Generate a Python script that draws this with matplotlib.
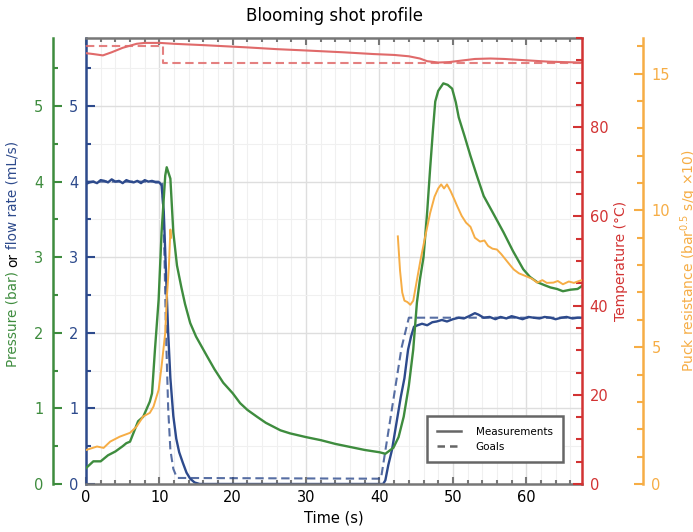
import matplotlib
matplotlib.use("Agg")
import matplotlib.pyplot as plt
from matplotlib.lines import Line2D
from matplotlib.ticker import MultipleLocator

# --- flow rate (mL/s) ---
flow_t = [0, 0.5, 1, 1.5, 2, 2.5, 3, 3.5, 4, 4.5, 5, 5.5, 6, 6.5, 7, 7.5, 8, 8.5,
          9, 9.5, 10, 10.3, 10.6, 10.9, 11.2, 11.5, 11.9, 12.3, 12.7, 13.2, 13.7,
          14.2, 14.8, 15.5, 20, 30, 40.5, 40.8, 41.2, 41.7, 42.3, 42.9, 43.4, 43.9,
          44.3, 44.7, 45.2, 45.8, 46.5, 47.2, 47.8, 48.5, 49.2, 50, 50.8, 51.5,
          52.2, 53, 53.5, 54.2, 55, 55.8, 56.5, 57.3, 58, 58.8, 59.5, 60.3, 61,
          61.8, 62.5, 63.3, 64, 64.8, 65.5, 66.3, 67, 67.6]
flow = [3.97, 3.99, 4.0, 3.98, 4.02, 4.01, 3.99, 4.03, 4.0, 4.01, 3.98, 4.02, 4.0,
        3.99, 4.01, 3.98, 4.02, 4.0, 4.01, 3.99, 3.99, 3.95, 3.6, 2.8, 2.0, 1.4,
        0.9, 0.6, 0.42, 0.28, 0.15, 0.07, 0.02, 0.0, 0.0, 0.0, 0.0, 0.05, 0.25,
        0.45, 0.8, 1.15, 1.4, 1.78, 1.95, 2.08, 2.1, 2.12, 2.1, 2.14, 2.15, 2.17,
        2.15, 2.18, 2.2, 2.19, 2.22, 2.26, 2.24, 2.2, 2.21, 2.18, 2.21, 2.19, 2.22,
        2.2, 2.18, 2.21, 2.2, 2.19, 2.21, 2.2, 2.18, 2.2, 2.21, 2.19, 2.2, 2.2]
flow_goal_t = [0, 10.4, 10.7, 10.9, 11.2, 11.5, 11.9, 12.4, 40.2, 43.0, 44.0, 67.6]
flow_goal = [4.0, 4.0, 3.0, 2.0, 1.0, 0.45, 0.2, 0.08, 0.07, 1.8, 2.2, 2.2]

# --- pressure (bar) ---
press_t = [0, 1, 2, 3, 4, 5, 5.5, 6, 7.1, 7.8, 8.7, 9.0, 9.4, 9.9, 10.3, 10.8, 11.0,
           11.5, 11.9, 12.4, 13.0, 13.5, 14.2, 15.0, 16.5, 17.5, 18.7, 20, 21, 22,
           23.3, 24.5, 25.5, 26.5, 27.8, 30, 32, 34, 36, 38, 40, 40.8, 41.9, 42.6,
           43.3, 44.0, 44.6, 45.1, 45.5, 46, 46.5, 46.9, 47.3, 47.6, 48.0, 48.7,
           49.3, 49.9, 50.4, 50.8, 51.6, 52.4, 53.3, 54.2, 55.5, 56.9, 58.2, 59.6,
           60.5, 61.5, 62.5, 63.3, 64.2, 65, 66, 67, 67.6]
press = [0.21, 0.3, 0.3, 0.38, 0.43, 0.5, 0.54, 0.56, 0.83, 0.89, 1.09, 1.2, 1.78,
         2.44, 3.33, 4.08, 4.19, 4.04, 3.33, 2.89, 2.6, 2.38, 2.13, 1.95, 1.69,
         1.52, 1.34, 1.2, 1.07, 0.98, 0.89, 0.81, 0.76, 0.71, 0.67, 0.62, 0.58,
         0.53, 0.49, 0.45, 0.42, 0.4, 0.48, 0.62, 0.89, 1.3, 1.78, 2.4, 2.7, 3.0,
         3.6, 4.17, 4.7, 5.06, 5.2, 5.3, 5.28, 5.23, 5.05, 4.85, 4.6, 4.34, 4.07,
         3.81, 3.58, 3.33, 3.08, 2.84, 2.74, 2.67, 2.63, 2.6, 2.58, 2.55, 2.57,
         2.58, 2.62]

# --- temperature (°C) ---
temp_t = [0, 1, 2.3, 3.5, 5, 6.9, 8, 10.1, 12, 16, 21.9, 26, 30, 35, 39.2, 42, 44,
          45.5, 46.5, 48, 49.5, 51, 53, 55.1, 57, 59, 61, 63, 65, 67.6]
temp = [96.6, 96.4, 96.1, 96.8, 97.8, 98.7, 98.9, 98.9, 98.7, 98.4, 97.9, 97.5,
        97.2, 96.8, 96.4, 96.2, 95.9, 95.4, 94.8, 94.5, 94.6, 94.9, 95.3, 95.4,
        95.3, 95.1, 94.9, 94.7, 94.6, 94.5]
temp_goal_t = [0, 10.5, 10.5, 67.6]
temp_goal = [98.1, 98.1, 94.5, 94.5]

# --- puck resistance (bar^0.5 s/g x10) ---
res1_t = [0.1, 1.5, 2.4, 3.3, 4.6, 6.0, 6.9, 7.8, 8.7, 9.2, 9.9, 10.3, 10.8, 11.0,
          11.3, 11.5, 11.6]
res1 = [1.25, 1.37, 1.32, 1.55, 1.73, 1.87, 2.1, 2.47, 2.6, 2.83, 3.44, 4.3, 5.53,
        6.74, 7.96, 9.3, 9.0]
res2_t = [42.5, 42.8, 43.1, 43.4, 43.8, 44.2, 44.6, 45.0, 45.6, 46.2, 46.9, 47.5,
          48.0, 48.4, 48.8, 49.2, 49.7, 50.2, 50.6, 51.2, 51.8, 52.4, 53.0, 53.7,
          54.3, 54.8, 55.4, 56, 56.6, 57.2, 57.8, 58.3, 59, 60.1, 60.8, 61.5, 62.2,
          62.8, 63.7, 64.3, 65, 65.8, 66.5, 67.2, 67.6]
res2 = [9.05, 7.8, 7.0, 6.7, 6.65, 6.55, 6.7, 7.3, 8.2, 9.0, 9.9, 10.5, 10.8, 10.95,
        10.8, 10.95, 10.7, 10.4, 10.15, 9.8, 9.55, 9.4, 9.0, 8.86, 8.9, 8.7, 8.6,
        8.57, 8.4, 8.2, 8.0, 7.84, 7.7, 7.58, 7.5, 7.36, 7.45, 7.35, 7.36, 7.42,
        7.3, 7.4, 7.35, 7.42, 7.45]

GREEN = "#3e8c3e"
BLUE = "#2d4a8c"
RED = "#d23333"
RED_LINE = "#e06a6a"
ORANGE = "#f6ad45"
GRAY = "#777777"
DASH = (0, (4, 2.2))

W, H = 693, 532
fig = plt.figure(figsize=(W / 100, H / 100), dpi=100)
ax = fig.add_axes([86 / W, 48 / H, 496 / W, 446 / H])

# main axes: flow rate on the inner left spine, time on x
ax.plot(flow_t, flow, color=BLUE, lw=1.7)
ax.plot(flow_goal_t, flow_goal, color=BLUE, lw=1.5, ls=DASH, alpha=0.8)
ax.set_xlim(0, 67.6)
ax.set_ylim(0, 5.9)
ax.xaxis.set_major_locator(MultipleLocator(10))
ax.xaxis.set_minor_locator(MultipleLocator(2))
ax.yaxis.set_major_locator(MultipleLocator(1))
ax.yaxis.set_minor_locator(MultipleLocator(0.5))
ax.grid(True, which="major", color="#dedede", lw=1)
ax.grid(True, which="minor", color="#f0f0f0", lw=0.8)
ax.set_axisbelow(True)
ax.tick_params(axis="x", which="both", direction="in", top=True, color=GRAY,
               width=1.5, labelsize=10.5, pad=4)
ax.tick_params(axis="x", which="major", length=5)
ax.tick_params(axis="x", which="minor", length=3)
ax.tick_params(axis="y", which="both", direction="in", color=BLUE,
               labelcolor=BLUE, width=1.5, labelsize=10.5, pad=5.5)
ax.tick_params(axis="y", which="major", length=6.5)
ax.tick_params(axis="y", which="minor", length=3.6)
for side in ("top", "bottom"):
    ax.spines[side].set_color(GRAY)
    ax.spines[side].set_linewidth(1.8)
ax.spines["left"].set_color(BLUE)
ax.spines["left"].set_linewidth(1.8)
ax.spines["right"].set_visible(False)
ax.set_xlabel("Time (s)", fontsize=10.5, labelpad=4)
ax.set_title("Blooming shot profile", fontsize=12, pad=12)

# pressure on an outer left spine
ax_p = ax.twinx()
ax_p.plot(press_t, press, color=GREEN, lw=1.7)
ax_p.set_ylim(0, 5.9)
ax_p.yaxis.set_ticks_position("left")
ax_p.spines["left"].set_position(("axes", -33 / 496))
ax_p.spines["left"].set_visible(True)
ax_p.spines["left"].set_color(GREEN)
ax_p.spines["left"].set_linewidth(1.8)
for side in ("right", "top", "bottom"):
    ax_p.spines[side].set_visible(False)
ax_p.yaxis.set_major_locator(MultipleLocator(1))
ax_p.yaxis.set_minor_locator(MultipleLocator(0.5))
ax_p.tick_params(axis="y", which="both", direction="in", color=GREEN,
                 labelcolor=GREEN, width=1.5, labelsize=10.5, pad=7)
ax_p.tick_params(axis="y", which="major", length=6.5)
ax_p.tick_params(axis="y", which="minor", length=3.6)

# temperature on the right spine
ax_t = ax.twinx()
ax_t.plot(temp_t, temp, color=RED_LINE, lw=1.5)
ax_t.plot(temp_goal_t, temp_goal, color=RED_LINE, lw=1.5, ls=DASH, alpha=0.85)
ax_t.set_ylim(0, 100)
ax_t.set_yticks([0, 20, 40, 60, 80])
ax_t.yaxis.set_minor_locator(MultipleLocator(5))
for side in ("left", "top", "bottom"):
    ax_t.spines[side].set_visible(False)
ax_t.spines["right"].set_color(RED)
ax_t.spines["right"].set_linewidth(1.8)
ax_t.tick_params(axis="y", which="both", direction="in", color=RED,
                 labelcolor=RED, width=1.5, labelsize=10.5, pad=5.5)
ax_t.tick_params(axis="y", which="major", length=6.5)
ax_t.tick_params(axis="y", which="minor", length=4.3)
ax_t.set_ylabel("Temperature (°C)", color=RED, fontsize=10, labelpad=4)

# puck resistance on an outer right spine
ax_r = ax.twinx()
ax_r.plot(res1_t, res1, color=ORANGE, lw=1.4)
ax_r.plot(res2_t, res2, color=ORANGE, lw=1.4)
ax_r.set_ylim(0, 16.3)
ax_r.spines["right"].set_position(("axes", 1 + 61 / 496))
for side in ("left", "top", "bottom"):
    ax_r.spines[side].set_visible(False)
ax_r.spines["right"].set_color(ORANGE)
ax_r.spines["right"].set_linewidth(1.8)
ax_r.yaxis.set_major_locator(MultipleLocator(5))
ax_r.yaxis.set_minor_locator(MultipleLocator(1))
ax_r.tick_params(axis="y", which="both", direction="in", color=ORANGE,
                 labelcolor=ORANGE, width=1.5, labelsize=10.5, pad=6)
ax_r.tick_params(axis="y", which="major", length=6.5)
ax_r.tick_params(axis="y", which="minor", length=4.3)
ax_r.set_ylabel(r"Puck resistance (bar$^{0.5}$ s/g ×10)", color=ORANGE,
                fontsize=10, labelpad=6)

handles = [Line2D([], [], color="#666666", lw=1.8),
           Line2D([], [], color="#666666", lw=1.8, ls=(0, (3, 2)))]
leg = ax_r.legend(handles, ["Measurements", "Goals"], loc="lower right",
                  bbox_to_anchor=(477 / 496, 22 / 446), fontsize=7.5,
                  fancybox=False, framealpha=1, edgecolor="#666666",
                  borderpad=1.0, handletextpad=1.4, labelspacing=0.45,
                  handlelength=2.3, borderaxespad=0)
leg.get_frame().set_linewidth(1.8)

# two-colour label for the left axes
renderer = fig.canvas.get_renderer()
pieces = [("Pressure (bar)", GREEN), ("or", "black"), ("flow rate (mL/s)", BLUE)]
texts = [fig.text(0, 0, s, color=c, fontsize=9.8, rotation=90,
                  rotation_mode="anchor", ha="left", va="center")
         for s, c in pieces]
lens = [t.get_window_extent(renderer).height for t in texts]
gap = 0.318 * 9.8 * 100 / 72
total = sum(lens) + gap * (len(lens) - 1)
y = (H - 254) - total / 2
for t, n in zip(texts, lens):
    t.set_position((13 / W, y / H))
    y += n + gap

fig.savefig("out.png", dpi=100)
